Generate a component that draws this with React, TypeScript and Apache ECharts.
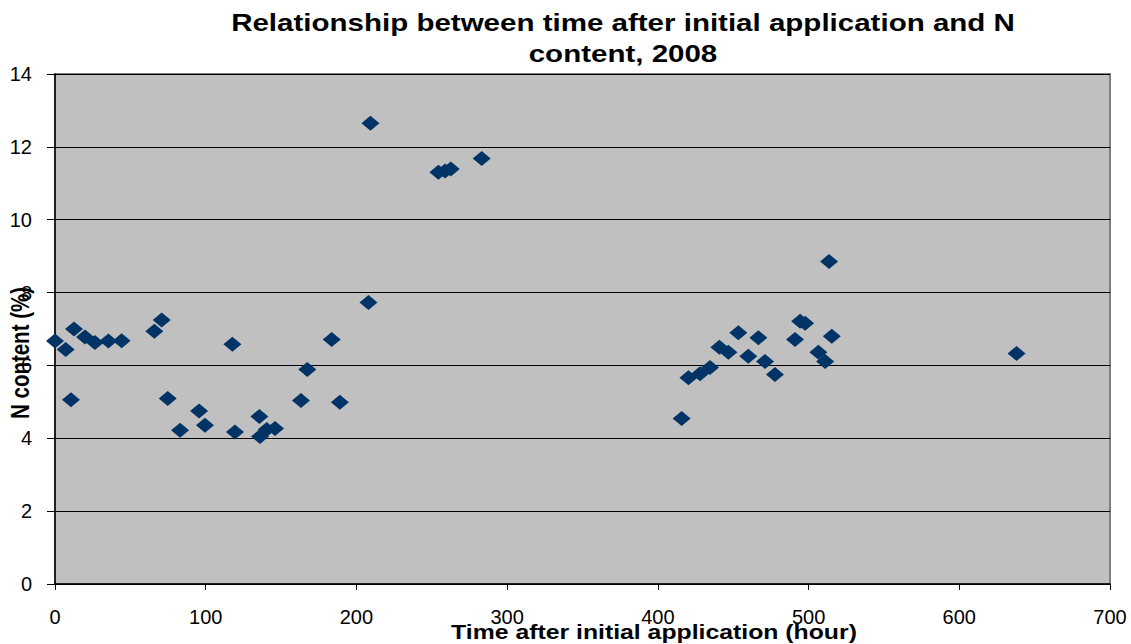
import React, { useEffect, useRef } from "react";
import * as echarts from "echarts";

const titleLines = ["Relationship between time after initial application and N", "content, 2008"];
const xAxisName = "Time after initial application (hour)";
const yAxisName = "N content (%)";

const hours = [
  0, 7.1, 12.6, 10.6, 19.9, 26.5, 35.4, 44.2, 65.9, 70.8, 74.8, 83, 95.6, 99.5, 117.7, 119.4,
  135.6, 136, 140.5, 146, 163.2, 167.4, 183.6, 189, 208, 209.3, 254.4, 258.8, 262.6, 283.1,
  415.8, 420.3, 428, 434.6, 440.8, 446.8, 453.4, 460, 466.7, 471.1, 477.7, 491, 494.4, 497.7,
  506.5, 511, 515.4, 513.6, 638,
];
const nContent = [
  6.67, 6.44, 7.0, 5.06, 6.78, 6.63, 6.67, 6.68, 6.94, 7.25, 5.09, 4.22, 4.75, 4.36, 6.58, 4.17,
  4.6, 4.05, 4.24, 4.27, 5.04, 5.89, 6.71, 4.99, 7.73, 12.65, 11.3, 11.34, 11.39, 11.68,
  4.54, 5.66, 5.77, 5.94, 6.5, 6.36, 6.9, 6.25, 6.76, 6.11, 5.75, 6.71, 7.21, 7.16,
  6.36, 6.11, 6.8, 8.85, 6.33,
];

export default function App() {
  const ref = useRef<HTMLDivElement>(null);
  useEffect(() => {
    if (!ref.current) return;
    const chart = echarts.init(ref.current, undefined, { renderer: "svg" });
    const font = "'Liberation Sans', Arial, sans-serif";
    const textStyle = (size: number, weight: string) => ({
      fontFamily: font,
      fontSize: size,
      fontWeight: weight,
      fill: "#000",
      align: "center",
      verticalAlign: "middle",
      textAlign: "center",
      textVerticalAlign: "middle",
    });
    chart.setOption({
      animation: false,
      backgroundColor: "#ffffff",
      graphic: [
        { type: "text", x: 623, y: 23, scaleX: 1.23, style: { text: titleLines[0], x: 0, y: 0, ...textStyle(24, "bold") } },
        { type: "text", x: 623, y: 54, scaleX: 1.23, style: { text: titleLines[1], x: 0, y: 0, ...textStyle(24, "bold") } },
        { type: "text", x: 654, y: 632, scaleX: 1.24, style: { text: xAxisName, x: 0, y: 0, ...textStyle(20, "bold") } },
        { type: "text", x: 20, y: 353, rotation: Math.PI / 2, scaleY: 1.25, style: { text: yAxisName, x: 0, y: 0, ...textStyle(20.5, "bold") } },
      ],
      grid: {
        left: 55,
        right: 21,
        top: 74,
        bottom: 60,
        containLabel: false,
        outerBoundsMode: "none",
        show: true,
        backgroundColor: "#c0c0c0",
        borderColor: "#808080",
        borderWidth: 2,
      },
      xAxis: {
        type: "value",
        min: 0,
        max: 700,
        interval: 100,
        axisLine: { show: true, onZero: false, lineStyle: { color: "#000", width: 1.5 } },
        axisTick: { show: true, inside: false, length: 6, lineStyle: { color: "#000" } },
        axisLabel: { fontFamily: font, fontSize: 20, color: "#000", margin: 23 },
        splitLine: { show: false },
      },
      yAxis: {
        type: "value",
        min: 0,
        max: 14,
        interval: 2,
        axisLine: { show: true, onZero: false, lineStyle: { color: "#000", width: 1.5 } },
        axisTick: { show: true, inside: false, length: 8, lineStyle: { color: "#000" } },
        axisLabel: { fontFamily: font, fontSize: 20, color: "#000", margin: 23 },
        splitLine: { show: true, lineStyle: { color: "#000", width: 1 } },
      },
      series: [
        {
          type: "scatter",
          symbol: "diamond",
          symbolSize: [18, 15],
          itemStyle: { color: "#003366", opacity: 1 },
          data: hours.map((h, i) => [h, nContent[i]]),
        },
      ],
    });
    return () => chart.dispose();
  }, []);
  return <div ref={ref} style={{ width: 1131, height: 644, position: "absolute", left: 0, top: 0 }} />;
}
